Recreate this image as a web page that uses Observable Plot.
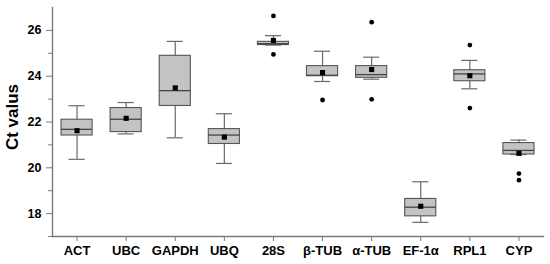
<!DOCTYPE html>
<html>
<head>
<meta charset="utf-8">
<script src="https://cdn.jsdelivr.net/npm/d3@7"></script>
<script src="https://cdn.jsdelivr.net/npm/@observablehq/plot@0.6"></script>
<style>
  html, body { margin: 0; padding: 0; background: #fff; }
</style>
</head>
<body>
<div id="chart"></div>
<script>
const categories = ["ACT", "UBC", "GAPDH", "UBQ", "28S", "β-TUB", "α-TUB", "EF-1α", "RPL1", "CYP"];
const whiskerLow  = [20.37, 21.48, 21.31, 20.19, 25.36, 23.77, 23.87, 17.62, 23.45, 20.58];
const q1          = [21.41, 21.56, 22.70, 21.04, 25.36, 24.00, 23.93, 17.88, 23.78, 20.58];
const median      = [21.68, 22.12, 23.37, 21.43, 25.42, 24.04, 24.07, 18.28, 24.10, 20.76];
const q3          = [22.10, 22.61, 24.89, 21.69, 25.50, 24.44, 24.44, 18.64, 24.26, 21.08];
const whiskerHigh = [22.71, 22.85, 25.52, 22.36, 25.77, 25.09, 24.83, 19.39, 24.69, 21.21];
const meanValue   = [21.62, 22.16, 23.49, 21.34, 25.56, 24.16, 24.29, 18.32, 24.02, 20.63];
const outlierCategory = ["28S", "28S", "β-TUB", "α-TUB", "α-TUB", "RPL1", "RPL1", "CYP", "CYP"];
const outlierValue    = [26.63, 24.95, 22.96, 26.36, 22.99, 25.36, 22.61, 19.75, 19.46];
const majorTicks = [18, 20, 22, 24, 26];
const minorTicks = [17, 19, 21, 23, 25];
const yLabel = "Ct valus";

const rows = categories.map((c, i) => ({
  cat: c, lo: whiskerLow[i], q1: q1[i], med: median[i], q3: q3[i], hi: whiskerHigh[i], mean: meanValue[i]
}));
const outliers = outlierCategory.map((c, i) => ({cat: c, v: outlierValue[i]}));

const axisColor = "#7a7a7a";
const chart = Plot.plot({
  width: 550,
  height: 264,
  marginLeft: 52,
  marginRight: 7,
  marginTop: 7,
  marginBottom: 28,
  style: {fontFamily: "'Liberation Sans', Arial, sans-serif", fontSize: "13px", fontWeight: "bold", color: "#000", background: "#fff"},
  x: {type: "band", domain: categories, padding: 0, round: false},
  y: {domain: [17, 27]},
  marks: [
    Plot.ruleX(rows, {x: "cat", y1: "lo", y2: "hi", stroke: "#6a6a6a", strokeWidth: 1.2}),
    Plot.tickY(rows, {x: "cat", y: "lo", stroke: "#6a6a6a", strokeWidth: 1.2, insetLeft: 16.5, insetRight: 16.5}),
    Plot.tickY(rows, {x: "cat", y: "hi", stroke: "#6a6a6a", strokeWidth: 1.2, insetLeft: 16.5, insetRight: 16.5}),
    Plot.barY(rows, {x: "cat", y1: "q1", y2: "q3", fill: "#c3c3c3", stroke: "#555", strokeWidth: 1.1, insetLeft: 9, insetRight: 9}),
    Plot.tickY(rows, {x: "cat", y: "med", stroke: "#444", strokeWidth: 1.3, insetLeft: 9, insetRight: 9}),
    Plot.dot(rows, {x: "cat", y: "mean", symbol: "square", r: 2.9, fill: "#000", stroke: "none"}),
    Plot.dot(outliers, {x: "cat", y: "v", r: 2.4, fill: "#000", stroke: "none"}),
    Plot.axisY({ticks: majorTicks, tickSize: 6, tickPadding: 5, stroke: axisColor, label: null, fontSize: 12.5}),
    Plot.axisY({ticks: minorTicks, tickSize: 4, text: null, stroke: axisColor, label: null}),
    Plot.axisX({tickSize: 5, tickPadding: 4, stroke: axisColor, label: null}),
    Plot.frame({anchor: "left", stroke: axisColor, strokeWidth: 1.4}),
    Plot.frame({anchor: "bottom", stroke: axisColor, strokeWidth: 1.4}),
    Plot.text([yLabel], {frameAnchor: "left", textAnchor: "middle", text: d => d, rotate: -90, dx: -40, dy: -5, fontSize: 17, fontWeight: "bold", fill: "#000"})
  ]
});
document.getElementById("chart").appendChild(chart);
</script>
</body>
</html>
